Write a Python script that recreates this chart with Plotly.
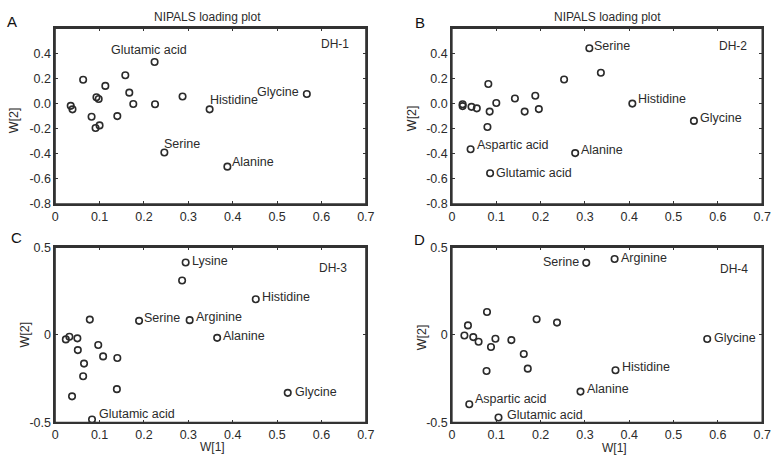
import plotly.graph_objects as go

# ---------------- data ----------------
x_tickvals = [0, 0.1, 0.2, 0.3, 0.4, 0.5, 0.6, 0.7]
x_ticktext = ["0", "0.1", "0.2", "0.3", "0.4", "0.5", "0.6", "0.7"]
y_top_tickvals = [-0.8, -0.6, -0.4, -0.2, 0.0, 0.2, 0.4]
y_top_ticktext = ["-0.8", "-0.6", "-0.4", "-0.2", "0.0", "0.2", "0.4"]
y_bot_tickvals = [-0.5, 0, 0.5]
y_bot_ticktext = ["-0.5", "0", "0.5"]

# DH-1
w1_A = [0.035, 0.039, 0.063, 0.082, 0.093, 0.098, 0.091, 0.100, 0.113, 0.140,
        0.158, 0.167, 0.176, 0.224, 0.225, 0.287, 0.348, 0.246, 0.388, 0.567]
w2_A = [-0.018, -0.046, 0.190, -0.105, 0.051, 0.036, -0.195, -0.174, 0.141, -0.100,
        0.226, 0.087, -0.003, 0.331, -0.005, 0.056, -0.046, -0.390, -0.503, 0.077]
lab_A = ["", "", "", "", "", "", "", "", "", "",
         "", "", "", "Glutamic acid", "", "", "Histidine", "Serine", "Alanine", "Glycine"]

# DH-2
w1_B = [0.024, 0.024, 0.044, 0.056, 0.082, 0.080, 0.085, 0.100, 0.142, 0.164,
        0.188, 0.196, 0.253, 0.310, 0.336, 0.407, 0.546, 0.042, 0.278, 0.086]
w2_B = [-0.005, -0.020, -0.026, -0.038, 0.156, -0.187, -0.064, 0.005, 0.041, -0.064,
        0.062, -0.044, 0.192, 0.441, 0.246, 0.000, -0.138, -0.364, -0.395, -0.556]
lab_B = ["", "", "", "", "", "", "", "", "", "",
         "", "", "", "Serine", "", "Histidine", "Glycine", "Aspartic acid", "Alanine", "Glutamic acid"]

# DH-3
w1_C = [0.024, 0.032, 0.050, 0.051, 0.078, 0.065, 0.063, 0.038, 0.097, 0.108,
        0.140, 0.139, 0.083, 0.189, 0.286, 0.294, 0.303, 0.365, 0.452, 0.524]
w2_C = [-0.026, -0.011, -0.020, -0.087, 0.087, -0.164, -0.236, -0.351, -0.058, -0.123,
        -0.132, -0.310, -0.483, 0.080, 0.310, 0.413, 0.084, -0.017, 0.203, -0.331]
lab_C = ["", "", "", "", "", "", "", "", "", "",
         "", "", "Glutamic acid", "Serine", "", "Lysine", "Arginine", "Alanine", "Histidine", "Glycine"]

# DH-4
w1_D = [0.028, 0.036, 0.048, 0.060, 0.079, 0.088, 0.098, 0.078, 0.134, 0.162,
        0.171, 0.191, 0.237, 0.303, 0.367, 0.369, 0.290, 0.039, 0.105, 0.576]
w2_D = [-0.004, 0.054, -0.013, -0.039, 0.130, -0.069, -0.022, -0.206, -0.030, -0.109,
        -0.193, 0.089, 0.070, 0.411, 0.433, -0.202, -0.324, -0.396, -0.472, -0.024]
lab_D = ["", "", "", "", "", "", "", "", "", "",
         "", "", "", "Serine", "Arginine", "Histidine", "Alanine", "Aspartic acid", "Glutamic acid", "Glycine"]

panel_names = ["DH-1", "DH-2", "DH-3", "DH-4"]
panel_letters = ["A", "B", "C", "D"]
title_text = "NIPALS loading plot"
x_title = "W[1]"
y_title = "W[2]"

# ---------------- style / layout ----------------
W, H = 781, 466
def fx(p): return p / W
def fy(p): return 1 - p / H

INK = "#2b2b2b"
LINE = "#333333"
FONT = "Liberation Sans, Arial, sans-serif"

# label placement: (xanchor, xshift, yshift)
place = {
    0: {"Glutamic acid": ("center", -6, 12), "Histidine": ("left", -2, 9),
        "Serine": ("left", -2, 8), "Alanine": ("left", 3, 5), "Glycine": ("right", -6, 2)},
    1: {"Serine": ("left", 3, 2), "Histidine": ("left", 4, 5), "Glycine": ("left", 4, 3),
        "Aspartic acid": ("left", 4, 4), "Alanine": ("left", 4, 3), "Glutamic acid": ("left", 4, 0)},
    2: {"Lysine": ("left", 4, 1), "Serine": ("left", 3, 3), "Arginine": ("left", 4, 3),
        "Alanine": ("left", 4, 2), "Histidine": ("left", 4, 2), "Glycine": ("left", 5, 1),
        "Glutamic acid": ("left", 5, 5)},
    3: {"Serine": ("right", -5, 1), "Arginine": ("left", 4, 1), "Histidine": ("left", 5, 3),
        "Alanine": ("left", 5, 3), "Aspartic acid": ("left", 4, 5), "Glutamic acid": ("left", 6, 3),
        "Glycine": ("left", 5, 1)},
}

# pixel frames: (left, right, top, bottom)
frames = [(53, 368.5, 22, 203), (456, 771, 22, 203),
          (53, 368.5, 247.7, 428.3), (456, 771, 247.7, 428.3)]

panels = [(w1_A, w2_A, lab_A), (w1_B, w2_B, lab_B), (w1_C, w2_C, lab_C), (w1_D, w2_D, lab_D)]

fig = go.Figure()
annotations = []
shapes = []
layout_axes = {}

for i, (xs, ys, labs) in enumerate(panels):
    n = "" if i == 0 else str(i + 1)
    xa, ya = "x" + n, "y" + n
    fig.add_trace(go.Scatter(
        x=xs, y=ys, mode="markers", xaxis=xa, yaxis=ya, showlegend=False,
        marker=dict(symbol="circle-open", size=6.5, color=INK, line=dict(width=1.6, color=INK)),
        hoverinfo="skip"))
    L, R, T, B = frames[i]
    top = i < 2
    common = dict(showline=True, linecolor=LINE, linewidth=1.5, mirror="ticks",
                  ticks="inside", ticklen=3, tickwidth=1, tickcolor=LINE,
                  showgrid=False, zeroline=False,
                  tickfont=dict(family=FONT, size=12.5, color=INK))
    layout_axes["xaxis" + n] = dict(
        domain=[fx(L), fx(R)], range=[0, 0.7], anchor=ya,
        tickvals=x_tickvals, ticktext=x_ticktext, **common)
    layout_axes["yaxis" + n] = dict(
        domain=[fy(B), fy(T)], range=[-0.8, 0.6] if top else [-0.5, 0.5], anchor=xa,
        tickvals=y_top_tickvals if top else y_bot_tickvals,
        ticktext=y_top_ticktext if top else y_bot_ticktext, **common)
    # frame box
    shapes.append(dict(type="rect", xref=xa + " domain", yref=ya + " domain",
                       x0=0, x1=1, y0=0, y1=1, line=dict(color=LINE, width=1.3),
                       fillcolor="rgba(0,0,0,0)", layer="above"))

    # point labels
    for x, y, t in zip(xs, ys, labs):
        if not t:
            continue
        anc, xs_, ys_ = place[i][t]
        annotations.append(dict(
            x=x, y=y, xref=xa, yref=ya, text=t, showarrow=False,
            xanchor=anc, yanchor="middle", xshift=xs_, yshift=ys_,
            font=dict(family=FONT, size=12.5, color=INK)))

# panel names
for (cx, cy), name in zip([(337, 38), (741, 40), (335, 269), (742, 270)], panel_names):
    annotations.append(dict(x=fx(cx), y=fy(cy), xref="paper", yref="paper", text=name,
                            showarrow=False, xanchor="center", yanchor="middle",
                            font=dict(family=FONT, size=12, color=INK)))
# panel letters
for (cx, cy), name in zip([(9, 15), (424, 16), (14, 238), (423, 240)], panel_letters):
    annotations.append(dict(x=fx(cx), y=fy(cy), xref="paper", yref="paper", text=name,
                            showarrow=False, xanchor="center", yanchor="middle",
                            font=dict(family=FONT, size=15, color="#111")))
# titles
for cx in [208, 614]:
    annotations.append(dict(x=fx(cx), y=fy(10), xref="paper", yref="paper", text=title_text,
                            showarrow=False, xanchor="center", yanchor="middle",
                            font=dict(family=FONT, size=12, color=INK)))
# y-axis titles
for (cx, cy) in [(12, 117), (415, 115), (22, 338), (425, 340)]:
    annotations.append(dict(x=fx(cx), y=fy(cy), xref="paper", yref="paper", text=y_title,
                            showarrow=False, xanchor="center", yanchor="middle", textangle=-90,
                            font=dict(family=FONT, size=12.5, color=INK)))
# x-axis titles
for (cx, cy) in [(213, 454), (621, 455)]:
    annotations.append(dict(x=fx(cx), y=fy(cy), xref="paper", yref="paper", text=x_title,
                            showarrow=False, xanchor="center", yanchor="middle", borderpad=0,
                            font=dict(family=FONT, size=12, color=INK)))

fig.update_layout(
    width=W, height=H, margin=dict(l=0, r=0, t=0, b=0),
    paper_bgcolor="white", plot_bgcolor="white",
    annotations=annotations, shapes=shapes, **layout_axes)

fig.write_html("out.html", config={"displayModeBar": False},
               post_script="document.body.style.margin='0px';document.body.style.overflow='hidden';")
